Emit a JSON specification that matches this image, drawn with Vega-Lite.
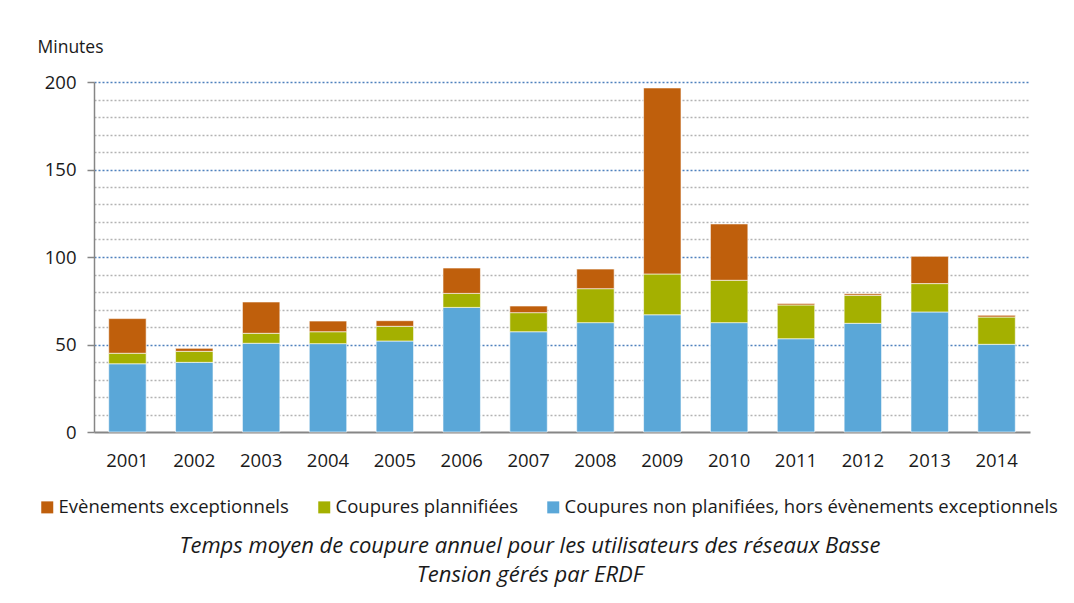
{
  "$schema": "https://vega.github.io/schema/vega-lite/v6.json",
  "width": 936,
  "height": 350,
  "autosize": {"type": "none"},
  "padding": {"left": 94, "top": 82, "right": 44, "bottom": 171},
  "background": "white",
  "title": {
    "text": ["Temps moyen de coupure annuel pour les utilisateurs des réseaux Basse", "Tension gérés par ERDF"],
    "orient": "bottom",
    "anchor": "middle",
    "dx": -32,
    "offset": 19,
    "font": "Open Sans",
    "fontSize": 22,
    "fontStyle": "italic",
    "fontWeight": "normal",
    "lineHeight": 29,
    "color": "#1a1a1a"
  },
  "data": {
    "values": [
      {"annee": "2001", "serie": "Coupures non planifiées, hors évènements exceptionnels", "minutes": 39.0, "rang": 1},
      {"annee": "2001", "serie": "Coupures plannifiées", "minutes": 6.0, "rang": 2},
      {"annee": "2001", "serie": "Evènements exceptionnels", "minutes": 19.8, "rang": 3},
      {"annee": "2002", "serie": "Coupures non planifiées, hors évènements exceptionnels", "minutes": 39.8, "rang": 1},
      {"annee": "2002", "serie": "Coupures plannifiées", "minutes": 6.3, "rang": 2},
      {"annee": "2002", "serie": "Evènements exceptionnels", "minutes": 1.7, "rang": 3},
      {"annee": "2003", "serie": "Coupures non planifiées, hors évènements exceptionnels", "minutes": 50.7, "rang": 1},
      {"annee": "2003", "serie": "Coupures plannifiées", "minutes": 5.7, "rang": 2},
      {"annee": "2003", "serie": "Evènements exceptionnels", "minutes": 17.9, "rang": 3},
      {"annee": "2004", "serie": "Coupures non planifiées, hors évènements exceptionnels", "minutes": 50.5, "rang": 1},
      {"annee": "2004", "serie": "Coupures plannifiées", "minutes": 6.8, "rang": 2},
      {"annee": "2004", "serie": "Evènements exceptionnels", "minutes": 6.1, "rang": 3},
      {"annee": "2005", "serie": "Coupures non planifiées, hors évènements exceptionnels", "minutes": 52.0, "rang": 1},
      {"annee": "2005", "serie": "Coupures plannifiées", "minutes": 8.4, "rang": 2},
      {"annee": "2005", "serie": "Evènements exceptionnels", "minutes": 3.2, "rang": 3},
      {"annee": "2006", "serie": "Coupures non planifiées, hors évènements exceptionnels", "minutes": 71.2, "rang": 1},
      {"annee": "2006", "serie": "Coupures plannifiées", "minutes": 8.0, "rang": 2},
      {"annee": "2006", "serie": "Evènements exceptionnels", "minutes": 14.5, "rang": 3},
      {"annee": "2007", "serie": "Coupures non planifiées, hors évènements exceptionnels", "minutes": 57.3, "rang": 1},
      {"annee": "2007", "serie": "Coupures plannifiées", "minutes": 10.9, "rang": 2},
      {"annee": "2007", "serie": "Evènements exceptionnels", "minutes": 3.8, "rang": 3},
      {"annee": "2008", "serie": "Coupures non planifiées, hors évènements exceptionnels", "minutes": 62.5, "rang": 1},
      {"annee": "2008", "serie": "Coupures plannifiées", "minutes": 19.4, "rang": 2},
      {"annee": "2008", "serie": "Evènements exceptionnels", "minutes": 11.2, "rang": 3},
      {"annee": "2009", "serie": "Coupures non planifiées, hors évènements exceptionnels", "minutes": 67.0, "rang": 1},
      {"annee": "2009", "serie": "Coupures plannifiées", "minutes": 23.3, "rang": 2},
      {"annee": "2009", "serie": "Evènements exceptionnels", "minutes": 106.3, "rang": 3},
      {"annee": "2010", "serie": "Coupures non planifiées, hors évènements exceptionnels", "minutes": 62.5, "rang": 1},
      {"annee": "2010", "serie": "Coupures plannifiées", "minutes": 24.2, "rang": 2},
      {"annee": "2010", "serie": "Evènements exceptionnels", "minutes": 32.2, "rang": 3},
      {"annee": "2011", "serie": "Coupures non planifiées, hors évènements exceptionnels", "minutes": 53.3, "rang": 1},
      {"annee": "2011", "serie": "Coupures plannifiées", "minutes": 19.3, "rang": 2},
      {"annee": "2011", "serie": "Evènements exceptionnels", "minutes": 0.9, "rang": 3},
      {"annee": "2012", "serie": "Coupures non planifiées, hors évènements exceptionnels", "minutes": 62.1, "rang": 1},
      {"annee": "2012", "serie": "Coupures plannifiées", "minutes": 16.0, "rang": 2},
      {"annee": "2012", "serie": "Evènements exceptionnels", "minutes": 0.9, "rang": 3},
      {"annee": "2013", "serie": "Coupures non planifiées, hors évènements exceptionnels", "minutes": 68.6, "rang": 1},
      {"annee": "2013", "serie": "Coupures plannifiées", "minutes": 16.2, "rang": 2},
      {"annee": "2013", "serie": "Evènements exceptionnels", "minutes": 15.6, "rang": 3},
      {"annee": "2014", "serie": "Coupures non planifiées, hors évènements exceptionnels", "minutes": 50.1, "rang": 1},
      {"annee": "2014", "serie": "Coupures plannifiées", "minutes": 15.6, "rang": 2},
      {"annee": "2014", "serie": "Evènements exceptionnels", "minutes": 1.0, "rang": 3}
    ]
  },
  "mark": {"type": "bar", "stroke": "#ffffff", "strokeWidth": 1, "strokeOpacity": 0.6},
  "encoding": {
    "x": {
      "field": "annee",
      "type": "nominal",
      "sort": null,
      "scale": {"paddingInner": 0.44, "paddingOuter": 0.22},
      "axis": {
        "title": null,
        "labelAngle": 0,
        "ticks": false,
        "labelPadding": 19,
        "labelFont": "Open Sans",
        "labelFontSize": 18.5,
        "labelColor": "#1a1a1a",
        "domainColor": "#868686",
        "domainWidth": 2,
        "grid": false
      }
    },
    "y": {
      "field": "minutes",
      "type": "quantitative",
      "aggregate": "sum",
      "stack": "zero",
      "scale": {"domain": [0, 200], "nice": false},
      "axis": {
        "title": "Minutes",
        "titleAngle": 0,
        "titleX": -57,
        "titleY": -30,
        "titleAlign": "left",
        "titleBaseline": "alphabetic",
        "titleFont": "Open Sans",
        "titleFontSize": 17.5,
        "titleFontWeight": "normal",
        "titleColor": "#1a1a1a",
        "values": [0, 10, 20, 30, 40, 50, 60, 70, 80, 90, 100, 110, 120, 130, 140, 150, 160, 170, 180, 190, 200],
        "labelExpr": "datum.value % 50 === 0 ? datum.label : ''",
        "labelFont": "Open Sans",
        "labelFontSize": 18.5,
        "labelColor": "#1a1a1a",
        "labelPadding": 11,
        "tickSize": 7,
        "tickColor": "#868686",
        "tickWidth": 1.5,
        "tickOpacity": {"condition": {"test": "datum.value % 50 === 0", "value": 1}, "value": 0},
        "domainColor": "#868686",
        "domainWidth": 1.5,
        "grid": true,
        "gridColor": {"condition": {"test": "datum.value % 50 === 0", "value": "#4f81bd"}, "value": "#b3b3b3"},
        "gridDash": [2, 2],
        "gridWidth": 1.3,
        "gridOpacity": {"condition": {"test": "datum.value === 0", "value": 0}, "value": 1}
      }
    },
    "color": {
      "field": "serie",
      "type": "nominal",
      "scale": {
        "domain": ["Evènements exceptionnels", "Coupures plannifiées", "Coupures non planifiées, hors évènements exceptionnels"],
        "range": ["#bf5f0c", "#a4b000", "#5aa7d8"]
      },
      "legend": {
        "title": null,
        "orient": "none",
        "direction": "horizontal",
        "legendX": -56,
        "legendY": 416,
        "symbolType": "square",
        "symbolSize": 144,
        "symbolStrokeWidth": 0,
        "labelFont": "Open Sans",
        "labelFontSize": 18.5,
        "labelColor": "#1a1a1a",
        "labelOffset": 2,
        "columnPadding": 26,
        "labelLimit": 600
      }
    },
    "order": {"field": "rang", "type": "quantitative", "sort": "ascending"}
  },
  "config": {
    "view": {"stroke": null}
  }
}
